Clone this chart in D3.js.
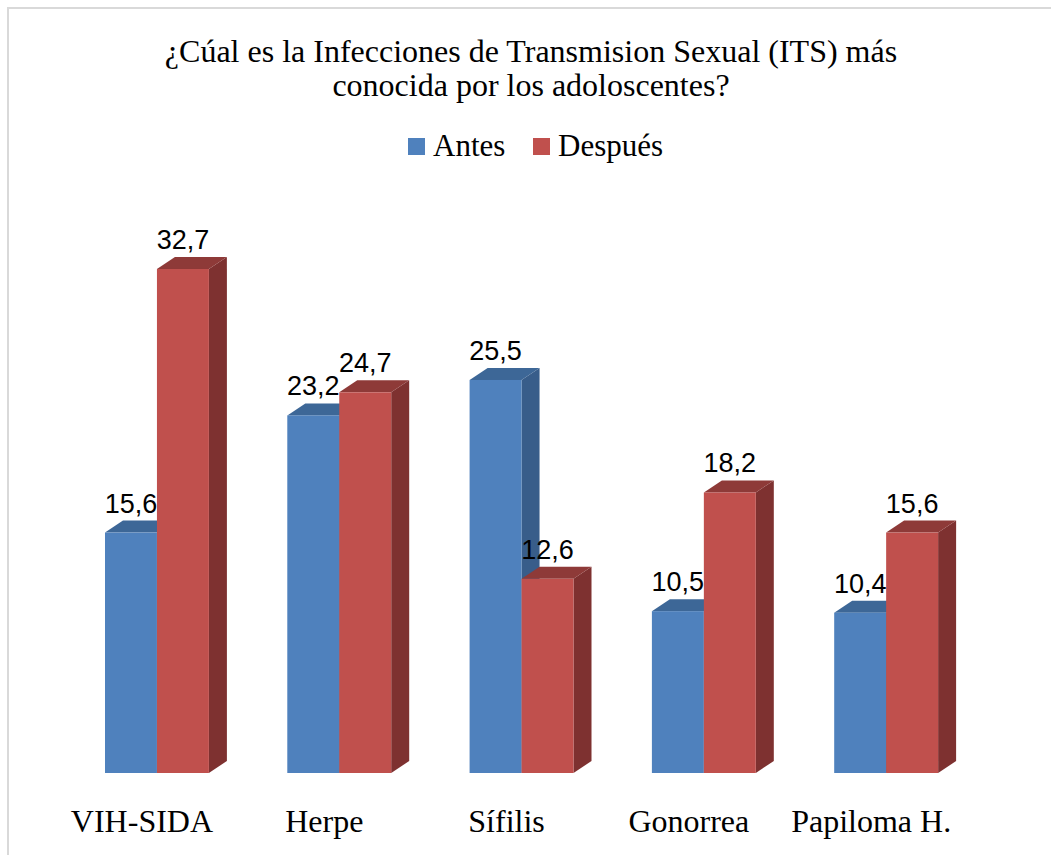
<!DOCTYPE html>
<html>
<head>
<meta charset="utf-8">
<script src="https://cdn.jsdelivr.net/npm/d3@7"></script>
<style>
    body { margin: 0; background: #fff; }
    svg { display: block; }
</style>
</head>
<body>
<svg id="chart" width="1051" height="855"></svg>
<script>
"use strict";

const categories = ["VIH-SIDA", "Herpe", "Sífilis", "Gonorrea", "Papiloma H."];
const series = ["Antes", "Después"];
const antes = [15.6, 23.2, 25.5, 10.5, 10.4];
const despues = [32.7, 24.7, 12.6, 18.2, 15.6];
const valueLabels = {
    "Antes": ["15,6", "23,2", "25,5", "10,5", "10,4"],
    "Después": ["32,7", "24,7", "12,6", "18,2", "15,6"]
};
const titleLines = [
    "¿Cúal es la Infecciones de Transmision Sexual (ITS) más",
    "conocida por los adoloscentes?"
];

{
    const svg = d3.select("#chart"),
        colors = {
            "Antes": { front: "#4f81bd", top: "#3d6797", side: "#385d8a" },
            "Después": { front: "#c0504d", top: "#8e3a38", side: "#7e3130" }
        },
        values = { "Antes": antes, "Después": despues },
        depthX = 18,
        depthY = 12,
        baseY = 773,
        serif = "'Liberation Serif', 'Times New Roman', serif";

    // outer frame (only top/left edges show inside the picture)
    svg.append("rect")
        .attr("x", 8).attr("y", 8)
        .attr("width", 1100).attr("height", 900)
        .attr("fill", "none")
        .attr("stroke", "#d9d9d9")
        .attr("stroke-width", 2);

    svg.append("text")
        .attr("text-anchor", "middle")
        .attr("font-family", serif)
        .attr("font-size", 32)
        .attr("fill", "#000")
        .selectAll("tspan")
        .data(titleLines)
        .join("tspan")
        .attr("x", 531)
        .attr("y", (d, i) => 62 + i * 34)
        .text(d => d);

    // legend
    const legend = svg.append("g").attr("font-family", serif).attr("font-size", 31);
    const legendX = [408, 533];
    series.forEach((s, i) => {
        legend.append("rect")
            .attr("x", legendX[i]).attr("y", 138)
            .attr("width", 17).attr("height", 17)
            .attr("fill", colors[s].front);
        legend.append("text")
            .attr("x", legendX[i] + 25).attr("y", 156)
            .text(s);
    });

    const x0 = d3.scaleBand()
        .domain(categories)
        .range([65.8, 977.3])
        .paddingInner(0.43)
        .paddingOuter(0.215);

    const x1 = d3.scaleBand()
        .domain(series)
        .range([0, x0.bandwidth()]);

    const y = d3.scaleLinear()
        .domain([0, 35])
        .range([baseY, baseY - 35 * 15.413]);

    const bars = [];
    categories.forEach((c, i) => {
        series.forEach(s => {
            bars.push({ c, s, i, v: values[s][i] });
        });
    });

    const g = svg.append("g");

    const bar = g.selectAll("g.bar")
        .data(bars)
        .join("g")
        .attr("class", "bar");

    bar.each(function (d) {
        const el = d3.select(this),
            left = x0(d.c) + x1(d.s),
            right = left + x1.bandwidth(),
            top = y(d.v),
            col = colors[d.s];

        el.append("path")
            .attr("d", `M${right},${baseY}L${right + depthX},${baseY - depthY}` +
                `L${right + depthX},${top - depthY}L${right},${top}Z`)
            .attr("fill", col.side);

        el.append("path")
            .attr("d", `M${left},${top}L${left + depthX},${top - depthY}` +
                `L${right + depthX},${top - depthY}L${right},${top}Z`)
            .attr("fill", col.top);

        el.append("rect")
            .attr("x", left)
            .attr("y", top)
            .attr("width", x1.bandwidth())
            .attr("height", baseY - top)
            .attr("fill", col.front);
    });

    // value labels drawn last so no bar covers them
    svg.append("g")
        .attr("font-family", "'Liberation Sans', Arial, sans-serif")
        .attr("font-size", 27)
        .attr("text-anchor", "middle")
        .selectAll("text")
        .data(bars)
        .join("text")
        .attr("x", d => x0(d.c) + x1(d.s) + x1.bandwidth() / 2)
        .attr("y", d => y(d.v) - 20)
        .text(d => valueLabels[d.s][d.i]);

    svg.append("g")
        .attr("font-family", serif)
        .attr("font-size", 32)
        .attr("text-anchor", "middle")
        .selectAll("text")
        .data(categories)
        .join("text")
        .attr("x", d => x0(d) + x0.bandwidth() / 2 - 15)
        .attr("y", 832)
        .text(d => d);
}
</script>
</body>
</html>
